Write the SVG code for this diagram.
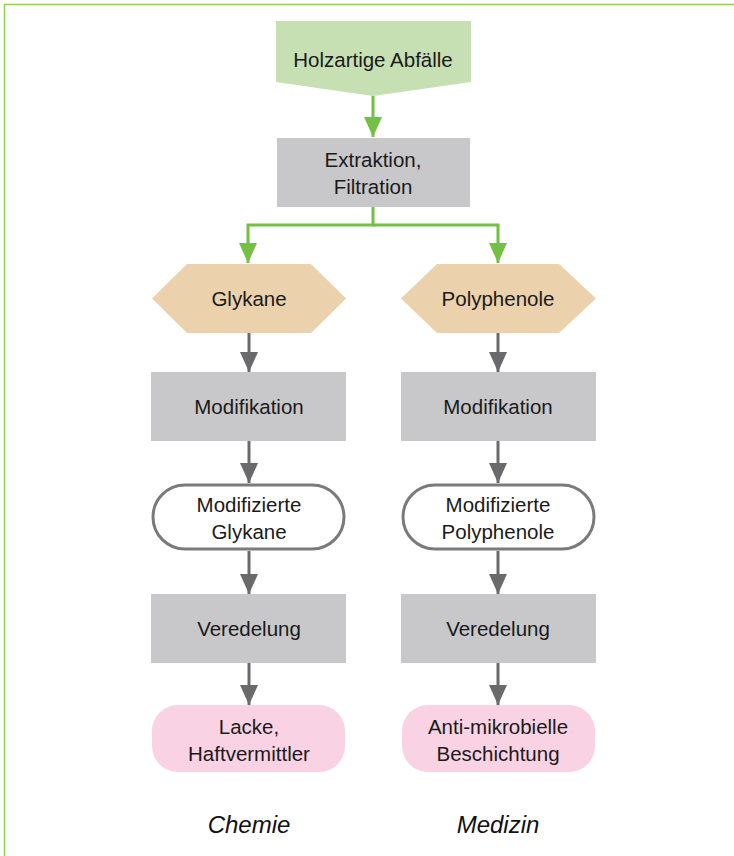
<svg xmlns="http://www.w3.org/2000/svg" width="734" height="856" viewBox="0 0 734 856">
  <defs>
    <style>
      .t { font-family: "Liberation Sans", Arial, sans-serif; font-size: 20.5px; fill: #1a1a1a; text-anchor: middle; }
      .cap { font-family: "Liberation Sans", Arial, sans-serif; font-size: 24px; font-style: italic; fill: #111; text-anchor: middle; }
      .gray { fill: #c8c8ca; }
      .tan { fill: #ebd1ac; }
      .green { fill: #c6e0b4; }
      .pink { fill: #f9d2e3; }
      .lineG { fill: none; stroke: #74c043; stroke-width: 3; }
      .lineD { fill: none; stroke: #6a6a6d; stroke-width: 3; }
    </style>
    <marker id="ag" viewBox="0 0 20 18" refX="20" refY="9" markerWidth="20" markerHeight="18" markerUnits="userSpaceOnUse" orient="auto">
      <path d="M0,0 L20,9 L0,18 Z" fill="#74c043"/>
    </marker>
    <marker id="ad" viewBox="0 0 20 18" refX="20" refY="9" markerWidth="20" markerHeight="18" markerUnits="userSpaceOnUse" orient="auto">
      <path d="M0,0 L20,9 L0,18 Z" fill="#6a6a6d"/>
    </marker>
  </defs>

  <!-- frame -->
  <path d="M734,4.5 H4.5 V856" fill="none" stroke="#92d050" stroke-width="1.5"/>

  <!-- connectors -->
  <g id="connectors">
    <path class="lineG" d="M373,96 V137" marker-end="url(#ag)"/>
    <path class="lineG" d="M373,207 V225 H248 V263" marker-end="url(#ag)"/>
    <path class="lineG" d="M373,225 H498 V263" marker-end="url(#ag)"/>
    <path class="lineD" d="M249,333 V372" marker-end="url(#ad)"/>
    <path class="lineD" d="M249,441 V483" marker-end="url(#ad)"/>
    <path class="lineD" d="M249,551 V594" marker-end="url(#ad)"/>
    <path class="lineD" d="M249,663 V705" marker-end="url(#ad)"/>
    <path class="lineD" d="M498,333 V372" marker-end="url(#ad)"/>
    <path class="lineD" d="M498,441 V483" marker-end="url(#ad)"/>
    <path class="lineD" d="M498,551 V594" marker-end="url(#ad)"/>
    <path class="lineD" d="M498,663 V705" marker-end="url(#ad)"/>
  </g>

  <g id="holzartige-abfaelle">
    <path class="green" d="M276,21 H471 V82 L373,96 L276,82 Z"/>
    <text class="t" x="373" y="67">Holzartige Abfälle</text>
  </g>

  <g id="extraktion">
    <rect class="gray" x="277" y="138" width="193" height="69"/>
    <text class="t" x="373" y="167">Extraktion,</text>
    <text class="t" x="373" y="194">Filtration</text>
  </g>

  <g id="glykane">
    <path class="tan" d="M152,298.5 L187,264 H311 L346,298.5 L311,333 H187 Z"/>
    <text class="t" x="249" y="306">Glykane</text>
  </g>

  <g id="polyphenole">
    <path class="tan" d="M401,298.5 L437,264 H559 L596,298.5 L559,333 H437 Z"/>
    <text class="t" x="498" y="306">Polyphenole</text>
  </g>

  <g id="modifikation-1">
    <rect class="gray" x="151" y="372" width="195" height="69"/>
    <text class="t" x="249" y="414">Modifikation</text>
  </g>

  <g id="modifikation-2">
    <rect class="gray" x="401" y="372" width="195" height="69"/>
    <text class="t" x="498" y="414">Modifikation</text>
  </g>

  <g id="mod-glykane">
    <rect x="153" y="485" width="191" height="64" rx="32" fill="#fff" stroke="#7a7a7d" stroke-width="3"/>
    <text class="t" x="249" y="512">Modifizierte</text>
    <text class="t" x="249" y="539">Glykane</text>
  </g>

  <g id="mod-polyphenole">
    <rect x="403" y="485" width="191" height="64" rx="32" fill="#fff" stroke="#7a7a7d" stroke-width="3"/>
    <text class="t" x="498" y="512">Modifizierte</text>
    <text class="t" x="498" y="539">Polyphenole</text>
  </g>

  <g id="veredelung-1">
    <rect class="gray" x="151" y="594" width="195" height="69"/>
    <text class="t" x="249" y="636">Veredelung</text>
  </g>

  <g id="veredelung-2">
    <rect class="gray" x="401" y="594" width="195" height="69"/>
    <text class="t" x="498" y="636">Veredelung</text>
  </g>

  <g id="lacke">
    <rect class="pink" x="152" y="705" width="193" height="67" rx="26"/>
    <text class="t" x="249" y="734">Lacke,</text>
    <text class="t" x="249" y="761">Haftvermittler</text>
  </g>

  <g id="beschichtung">
    <rect class="pink" x="402" y="705" width="193" height="67" rx="26"/>
    <text class="t" x="498" y="734">Anti-mikrobielle</text>
    <text class="t" x="498" y="761">Beschichtung</text>
  </g>

  <g id="labels">
    <text class="cap" x="249" y="833">Chemie</text>
    <text class="cap" x="498" y="833">Medizin</text>
  </g>
</svg>
